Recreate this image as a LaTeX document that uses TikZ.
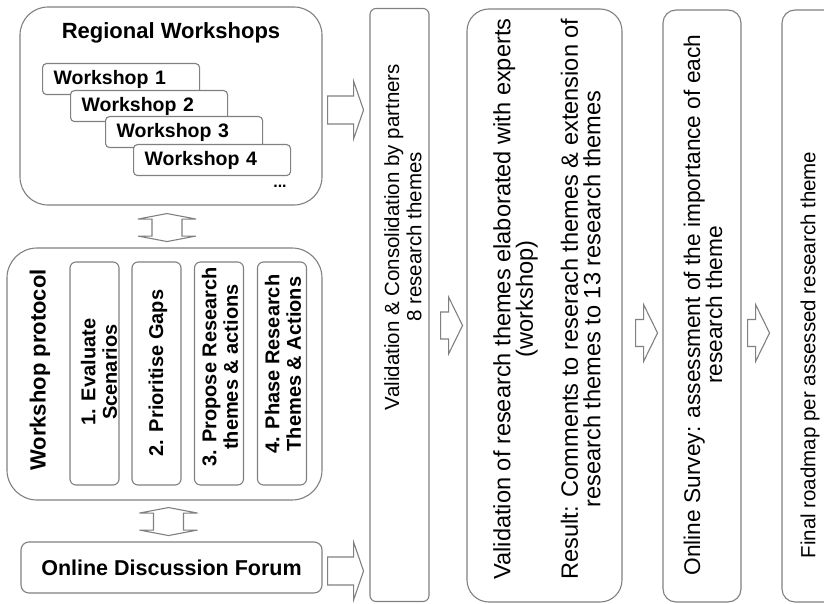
\documentclass[tikz,border=0pt]{standalone}
\usepackage{fontspec}
\setmainfont{Liberation Sans}
\usetikzlibrary{calc}

\definecolor{edge}{RGB}{128,128,128}

% right-pointing block arrow: start, shaft length, head length, shaft half-width, head half-width
\newcommand\rblock[5]{%
  \draw[blockarrow] (#1) ++(0,-#4) -- ++(#2,0) -- ++(0,{-(#5-#4)}) -- ++(#3,#5)
    -- ++(-#3,#5) -- ++(0,{-(#5-#4)}) -- ++(-#2,0) -- cycle;}
% vertical two-headed block arrow: top tip, head length, shaft length, shaft half-width, head half-width
\newcommand\vdblock[5]{%
  \draw[blockarrow] (#1) -- ++(-#5,#2) -- ++({#5-#4},0) -- ++(0,#3) -- ++({-(#5-#4)},0)
    -- ++(#5,#2) -- ++(#5,-#2) -- ++({-(#5-#4)},0) -- ++(0,-#3) -- ++({#5-#4},0) -- cycle;}

\begin{document}
\begin{tikzpicture}[x=1pt,y=-1pt,
  box/.style={draw=edge, line width=1.1pt, fill=white, inner sep=0pt},
  blockarrow/.style={draw=edge, line width=1.1pt, fill=white, line join=miter},
  titlefont/.style={font=\fontsize{22}{24}\selectfont\bfseries},
  wsfont/.style={font=\fontsize{19.5}{21}\selectfont\bfseries},
  stepfont/.style={font=\fontsize{20}{21.5}\selectfont\bfseries},
  phasefont/.style={font=\fontsize{20.5}{22.3}\selectfont},
  wsbox/.style={box, rounded corners=4pt, anchor=north west, minimum height=31pt,
    text width=135pt, inner xsep=11pt, align=left, wsfont},
  stepbox/.style={box, rounded corners=6pt, minimum width=49pt, minimum height=223pt},
  phasebox/.style={box, minimum height=593pt},
  vtext/.style={rotate=90, align=center, inner sep=0pt}]

\useasboundingbox (0,0) rectangle (824,604);

% ---- regional workshops ----
\node[box, rounded corners=28pt, minimum width=302pt, minimum height=198pt] (rw) at (171,106) {};
\node[titlefont] (rwtitle) at (171,33) {Regional Workshops};
\node[wsbox] (w1) at (42,63) {Workshop 1};
\node[wsbox] (w2) at (70,90) {Workshop 2};
\node[wsbox] (w3) at (105,116) {Workshop 3};
\node[wsbox] (w4) at (133,144) {Workshop 4};
\node[font=\fontsize{16}{16}\selectfont\bfseries] (dots) at (280,186) {...};

% ---- workshop protocol ----
\node[box, rounded corners=30pt, minimum width=315pt, minimum height=252pt] (wp) at (164.5,374) {};
\node[vtext, titlefont] (wptitle) at (40,370) {Workshop protocol};
\node[stepbox] (p1) at (94.5,373.5) {};
\node[stepbox] (p2) at (156.5,373.5) {};
\node[stepbox] (p3) at (219,373.5) {};
\node[stepbox] (p4) at (282,373.5) {};
\node[vtext, stepfont] (p1t) at (99,372) {1. Evaluate\\Scenarios};
\node[vtext, stepfont] (p2t) at (158,373) {2. Prioritise Gaps};
\node[vtext, stepfont] (p3t) at (220,367) {3. Propose Research\\themes \& actions};
\node[vtext, stepfont] (p4t) at (283,364) {4. Phase Research\\Themes \& Actions};

% ---- online forum ----
\node[box, rounded corners=8pt, minimum width=301pt, minimum height=51pt,
  font=\fontsize{21.5}{24}\selectfont\bfseries] (odf) at (171.5,567.5) {Online Discussion Forum};

% ---- process phases ----
\node[phasebox, rounded corners=6pt, minimum width=59pt] (vc) at (399.5,305) {};
\node[phasebox, rounded corners=22pt, minimum width=155pt] (vr) at (544.5,305.5) {};
\node[phasebox, rounded corners=13pt, minimum width=78pt, minimum height=592pt] (os) at (702,306) {};
\node[phasebox, rounded corners=13pt, minimum width=58pt, minimum height=592pt] (fr) at (811,306) {};

\node[vtext, phasefont] (vct) at (403,237) {Validation \& Consolidation by partners\\8 research themes};
\node[vtext, font=\fontsize{23.6}{22.5}\selectfont] (vrt) at (547,299)
  {Validation of research themes elaborated with experts\\(workshop)\\[22.5pt]Result: Comments to reserach themes \& extension of\\research themes to 13 research themes};
\node[vtext, font=\fontsize{22.7}{22}\selectfont] (ost) at (703,305) {Online Survey: assessment of the importance of each\\research theme};
\node[vtext, phasefont] (frt) at (810,355) {Final roadmap per assessed research theme};

% ---- connectors ----
\vdblock{$(rw.south)+(-4,8)$}{5.5}{17}{15}{29}
\vdblock{$(wp.south)+(4,7)$}{5.5}{17}{15}{29}
\rblock{$(rw.east)+(5,4)$}{26}{10}{14}{29}
\rblock{$(odf.east)+(5,3.5)$}{26}{10}{14}{29}
\rblock{$(vc.east)+(11,20.5)$}{8}{14}{13.5}{28.5}
\rblock{$(vr.east)+(13,27.5)$}{8}{14}{13.5}{28.5}
\rblock{$(os.east)+(6,27)$}{8}{14}{13.5}{28.5}

\end{tikzpicture}
\end{document}
